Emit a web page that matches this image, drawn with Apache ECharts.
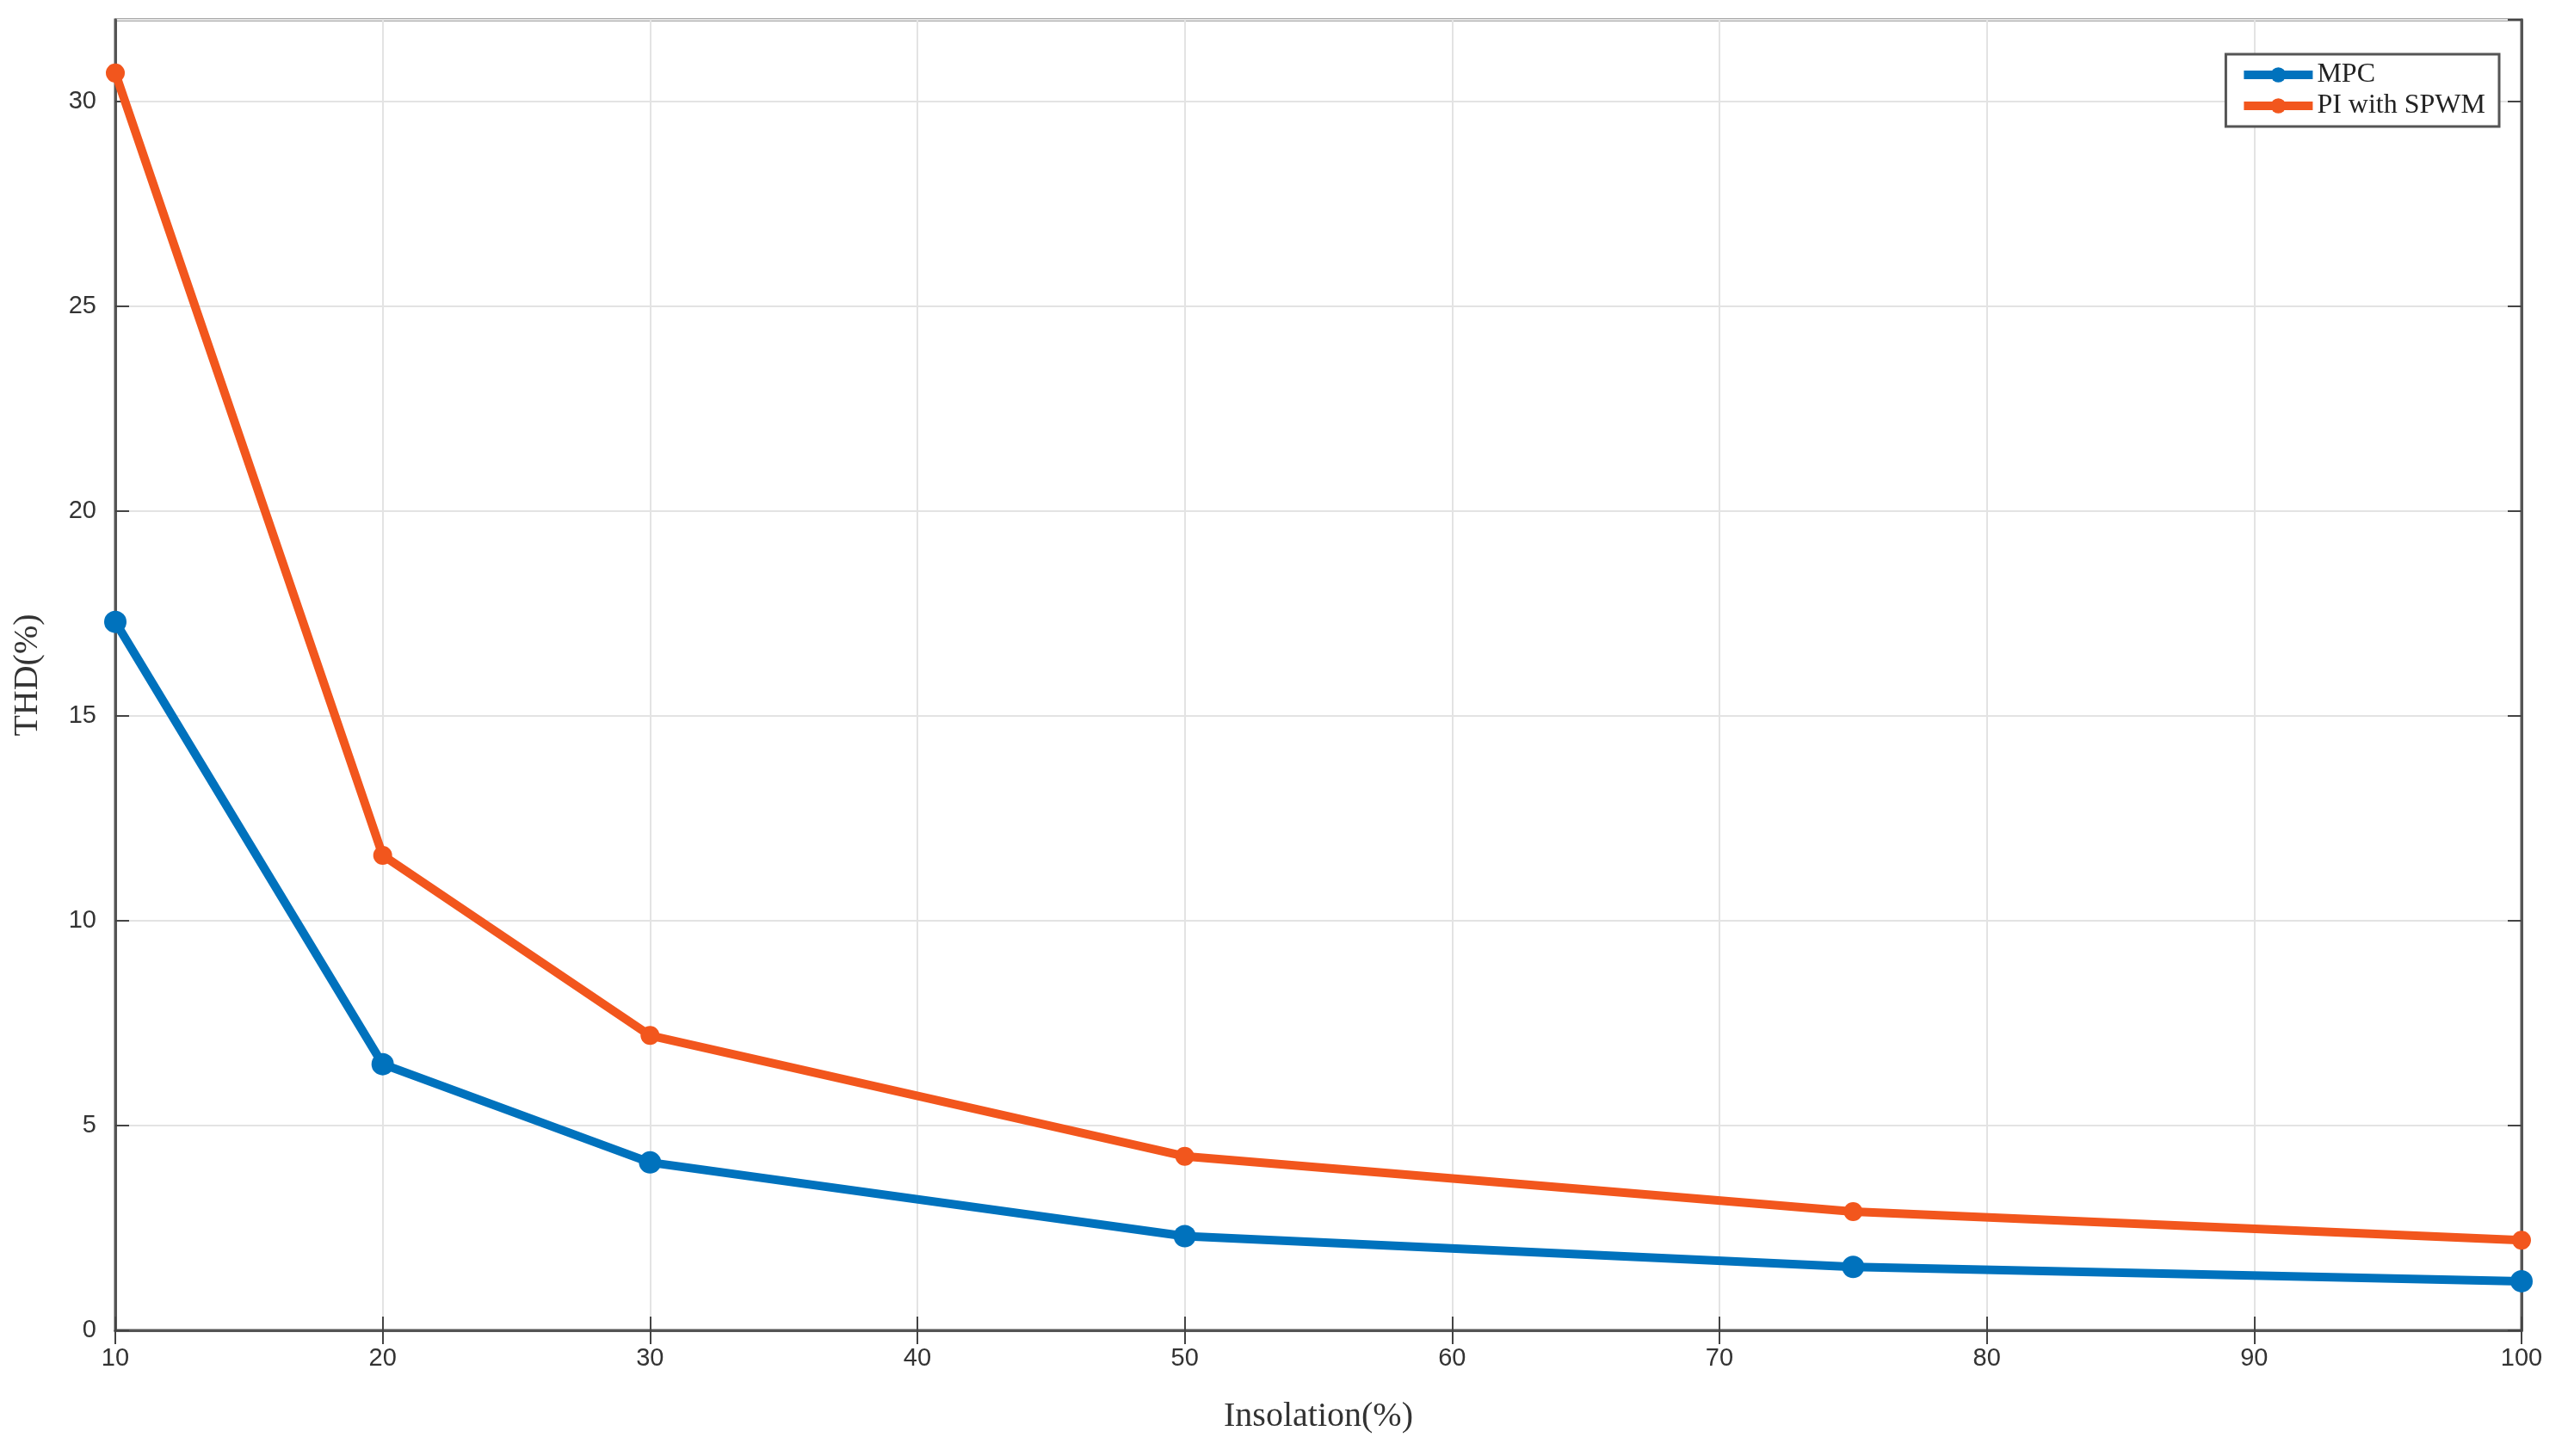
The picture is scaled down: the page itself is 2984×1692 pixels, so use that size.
<!DOCTYPE html>
<html>
<head>
<meta charset="utf-8">
<script src="https://cdn.jsdelivr.net/npm/echarts@6/dist/echarts.min.js"></script>
<style>html,body{margin:0;padding:0;background:#fff}#chart{width:2984px;height:1692px}</style>
</head>
<body>
<div id="chart"></div>
<script>
var insolation = [10, 20, 30, 50, 75, 100];
var mpcThd = [17.3, 6.5, 4.1, 2.3, 1.55, 1.2];
var piThd = [30.7, 11.6, 7.2, 4.25, 2.9, 2.2];

function pairs(ys) {
    return insolation.map(function (x, i) { return [x, ys[i]]; });
}

var myChart = echarts.init(document.getElementById('chart'));
var tickStyle = { show: true, inside: true, length: 16, lineStyle: { color: '#444', width: 2 } };
var lineAxis = { lineStyle: { color: '#555', width: 3 } };

var option = {
    backgroundColor: '#fff',
    animation: false,
    grid: { left: 134, right: 54, top: 23, bottom: 146, show: true, borderColor: '#555', borderWidth: 3 },
    legend: {
        right: 80, top: 63, orient: 'vertical', itemGap: 4, itemWidth: 80, itemHeight: 22,
        backgroundColor: '#fff', borderColor: '#555', borderWidth: 3, padding: [8, 16, 8, 16],
        lineStyle: { width: 10 },
        textStyle: { fontFamily: 'Liberation Serif', fontSize: 32, color: '#222' },
        data: ['MPC', 'PI with SPWM']
    },
    xAxis: [{
        type: 'value', min: 10, max: 100, interval: 10,
        name: 'Insolation(%)', nameLocation: 'middle', nameGap: 80,
        nameTextStyle: { fontFamily: 'Liberation Serif', fontSize: 40, color: '#333' },
        axisLine: lineAxis, axisTick: tickStyle,
        axisLabel: { fontFamily: 'Liberation Sans', fontSize: 29, color: '#333', margin: 18 },
        splitLine: { show: true, lineStyle: { color: '#e3e3e3', width: 2 } }
    }, {
        type: 'value', position: 'top', min: 10, max: 100, interval: 10,
        axisLine: lineAxis, axisTick: tickStyle, axisLabel: { show: false }, splitLine: { show: false }
    }],
    yAxis: [{
        type: 'value', min: 0, max: 32, interval: 5,
        name: 'THD(%)', nameLocation: 'middle', nameGap: 82,
        nameTextStyle: { fontFamily: 'Liberation Serif', fontSize: 40, color: '#333' },
        axisLine: { show: true, lineStyle: { color: '#555', width: 3 } }, axisTick: tickStyle,
        axisLabel: { fontFamily: 'Liberation Sans', fontSize: 29, color: '#333', margin: 22, showMaxLabel: false },
        splitLine: { show: true, lineStyle: { color: '#e3e3e3', width: 2 } }
    }, {
        type: 'value', position: 'right', min: 0, max: 32, interval: 5,
        axisLine: { show: true, lineStyle: { color: '#555', width: 3 } }, axisTick: tickStyle,
        axisLabel: { show: false }, splitLine: { show: false }
    }],
    series: [{
        name: 'MPC', type: 'line', data: pairs(mpcThd),
        symbol: 'circle', symbolSize: 26,
        lineStyle: { color: '#0072bd', width: 10 }, itemStyle: { color: '#0072bd' }
    }, {
        name: 'PI with SPWM', type: 'line', data: pairs(piThd),
        symbol: 'circle', symbolSize: 22,
        lineStyle: { color: '#f2561d', width: 10 }, itemStyle: { color: '#f2561d' }
    }]
};
myChart.setOption(option);
</script>
</body>
</html>
